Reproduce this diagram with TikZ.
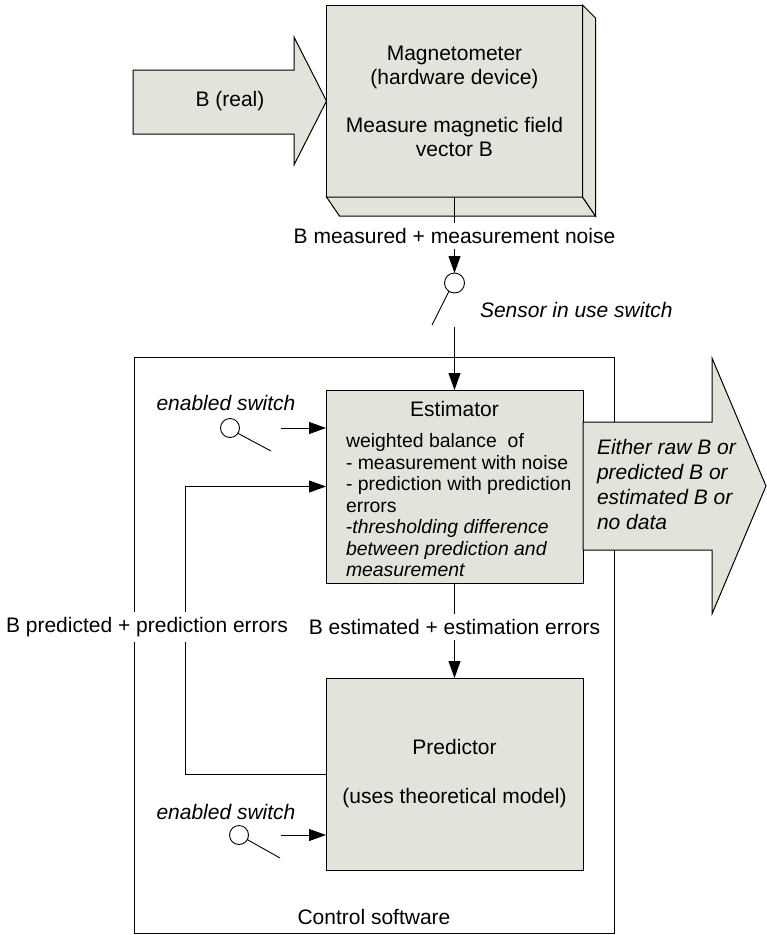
\documentclass[tikz,border=0pt]{standalone}
\usepackage{fontspec}
\setmainfont{Liberation Sans}
\usetikzlibrary{arrows.meta}
\definecolor{panel}{RGB}{227,227,220}
\begin{document}
\begin{tikzpicture}[x=1pt,y=-1pt,
  line width=0.9pt,
  every node/.style={inner sep=0pt, outer sep=0pt},
  lbl/.style={font=\fontsize{21}{24}\selectfont},
  itlbl/.style={font=\fontsize{21}{24}\selectfont\itshape},
  body/.style={font=\fontsize{19.4}{21.5}\selectfont},
  blk/.style={draw, fill=panel, line width=1pt},
  flow/.style={-{Triangle[length=17pt,width=12pt]}},
  swc/.style={circle, draw, fill=white, minimum size=19pt},
  gap/.style={fill=white, inner xsep=2pt, inner ysep=5pt}
]
\useasboundingbox (0,0) rectangle (767,935);

% control software frame
\node[draw, line width=1pt, minimum width=480pt, minimum height=576pt] (ctrl) at (374,645) {};
\node[lbl] (ctrltxt) at (374,917) {Control software};

% magnetometer block with bevelled faces
\node[blk, minimum width=256pt, minimum height=192pt, align=center, lbl] (mag) at (454.5,101)
  {Magnetometer\\(hardware device)\\[24pt]Measure magnetic field\\vector B};
\draw[blk] (mag.south west) -- (mag.south east) -- ++(13,19) -- ++(-256,0) -- cycle;
\draw[blk] (mag.north east) -- ++(13,13) -- ++(0,198) -- (mag.south east) -- cycle;

% incoming field arrow
\draw[blk] (133,70) -- (294,70) -- (294,37) -- (mag.west) -- (294,165) -- (294,134) -- (133,134) -- cycle;
\node[lbl] (breal) at (230,101) {B (real)};

% sensor in use switch
\node[swc, minimum size=20pt] (sw1) at (454.5,283) {};
\coordinate (sw1end) at (432,325);
\draw (sw1.236) -- (sw1end);
\draw[flow] (mag.south) -- (sw1.north);
\node[lbl, gap] (meas) at (454.5,236) {B measured + measurement noise};
\node[itlbl, anchor=west] (sens) at (480,310) {Sensor in use switch};

% estimator
\node[blk, minimum width=257pt, minimum height=193pt] (est) at (454.5,486.5) {};
\coordinate (sw1out) at (454.5,327);
\draw[flow] (sw1out) -- (est.north);
\node[lbl] (esttitle) at (454.5,409) {Estimator};
\foreach \txt [count=\k from 0] in {weighted balance~ of, - measurement with noise, - prediction with prediction, errors}
  \node[body, anchor=base west] (estl\k) at (346,{447.5+21.5*\k}) {\txt};
\foreach \txt [count=\k from 4] in {{-\itshape thresholding difference}, {\itshape between prediction and}, {\itshape measurement}}
  \node[body, anchor=base west] (estl\k) at (346,{447.5+21.5*\k}) {\txt};

% output arrow
\draw[blk] (583,422) -- (712,422) -- (712,358) -- (766,486) -- (712,614) -- (712,550) -- (583,550) -- cycle;
\foreach \txt [count=\k from 0] in {Either raw B or, predicted B or, estimated B or, no data}
  \node[itlbl, anchor=base west] (outl\k) at (597,{454+25*\k}) {\txt};

% estimator enable switch
\node[itlbl] (en1txt) at (226,403) {enabled switch};
\node[swc] (sw2) at (230,428) {};
\coordinate (sw2end) at (271,451);
\draw (sw2.-34) -- (sw2end);
\coordinate (sw2out) at (281,428);
\draw[flow] (sw2out) -- (sw2out -| est.west);

% predictor
\node[blk, minimum width=257pt, minimum height=192pt, align=center, lbl] (pred) at (454.5,774)
  {Predictor\\[25pt](uses theoretical model)};
\draw[flow] (est.south) -- (pred.north);
\draw[flow] (pred.west) -- (185,774) -- (185,486.5) -- (est.west);
\node[lbl, gap] (estlbl) at (454.5,627) {B estimated + estimation errors};
\node[lbl, gap] (predlbl) at (147,627) {B predicted + prediction errors};

% predictor enable switch
\node[itlbl] (en2txt) at (226,812) {enabled switch};
\node[swc] (sw3) at (239,835) {};
\coordinate (sw3end) at (280,858);
\draw (sw3.-29) -- (sw3end);
\coordinate (sw3out) at (281,835);
\draw[flow] (sw3out) -- (sw3out -| pred.west);
\end{tikzpicture}
\end{document}
